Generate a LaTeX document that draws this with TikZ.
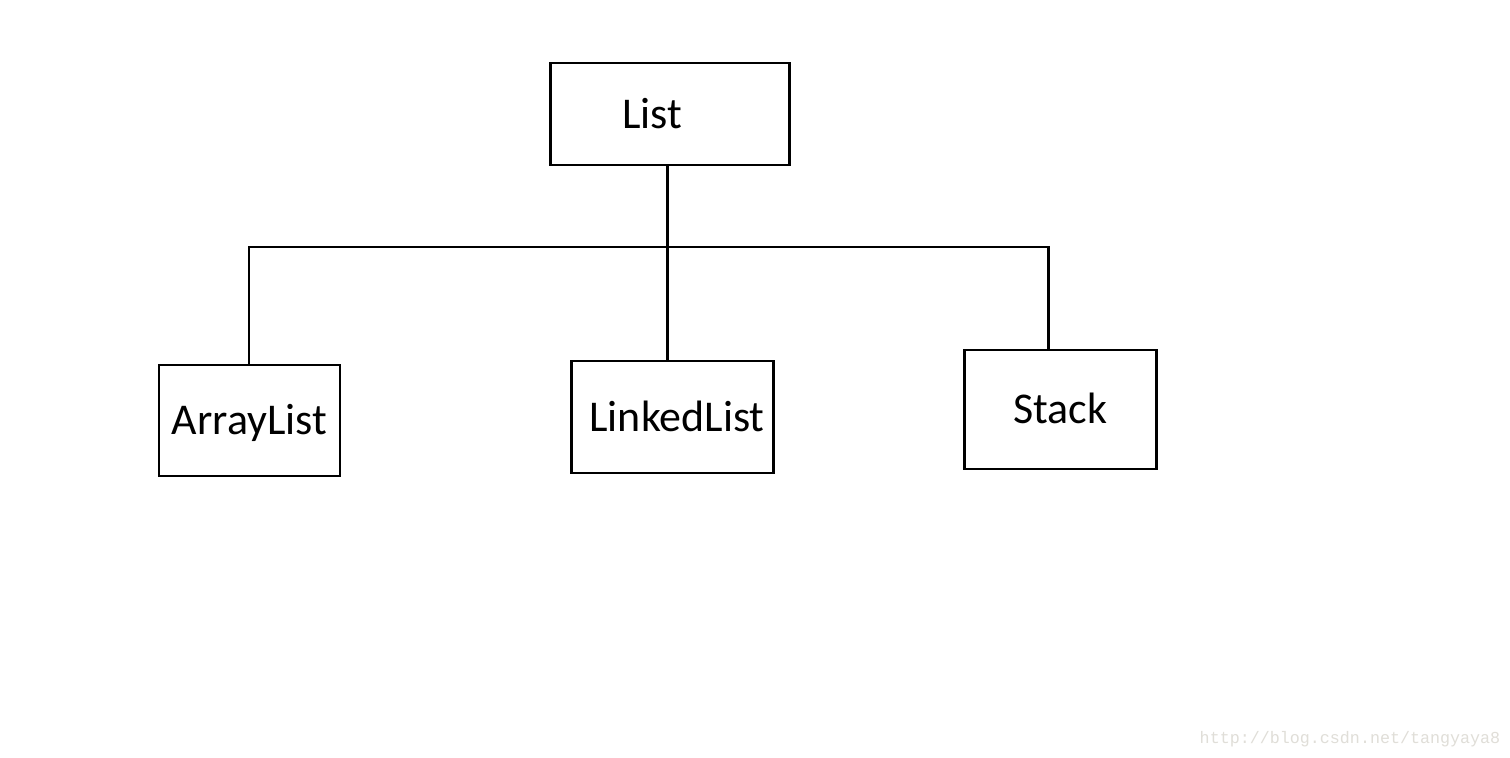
\documentclass[tikz,border=0pt]{standalone}
\usepackage{fontspec}
\setmainfont{Carlito}
\newfontfamily\wmfont{Liberation Mono}
\definecolor{wmgray}{RGB}{224,222,216}
\tikzset{
  classbox/.style={draw, line width=1.7pt, fill=white, inner sep=0pt,
    font=\fontsize{25}{29}\selectfont, text height=16.1pt, text depth=0pt},
  link/.style={line width=1.7pt}
}
\begin{document}
\begin{tikzpicture}
\useasboundingbox[fill=white] (0,0) rectangle (30.2,-15.16);

% parent
\node[classbox, minimum width=4.78cm, minimum height=2.04cm] (List) at (13.39,-2.28) {List\kern0.7cm};

% children
\node[classbox, minimum width=3.62cm, minimum height=2.22cm] (ArrayList) at (4.99,-8.41) {ArrayList};
\node[classbox, minimum width=4.04cm, minimum height=2.24cm] (LinkedList) at (13.44,-8.34) {\kern0.2cm LinkedList};
\node[classbox, minimum width=3.84cm, minimum height=2.38cm] (Stack) at (21.2,-8.19) {Stack};

% bus
\coordinate (busL) at (4.98,-4.94);
\coordinate (busM) at (13.34,-4.94);
\coordinate (busR) at (20.96,-4.94);
\draw[link] (busM |- List.south) -- (busM);
\draw[link] (busL |- ArrayList.north) -- (busL) -- (busR) -- (busR |- Stack.north);
\draw[link] (busM) -- (busM |- LinkedList.north);

\node[text=wmgray, font=\wmfont\fontsize{9.5}{11}\selectfont] (mark) at (27.0,-14.78) {http://blog.csdn.net/tangyaya8};
\end{tikzpicture}
\end{document}
